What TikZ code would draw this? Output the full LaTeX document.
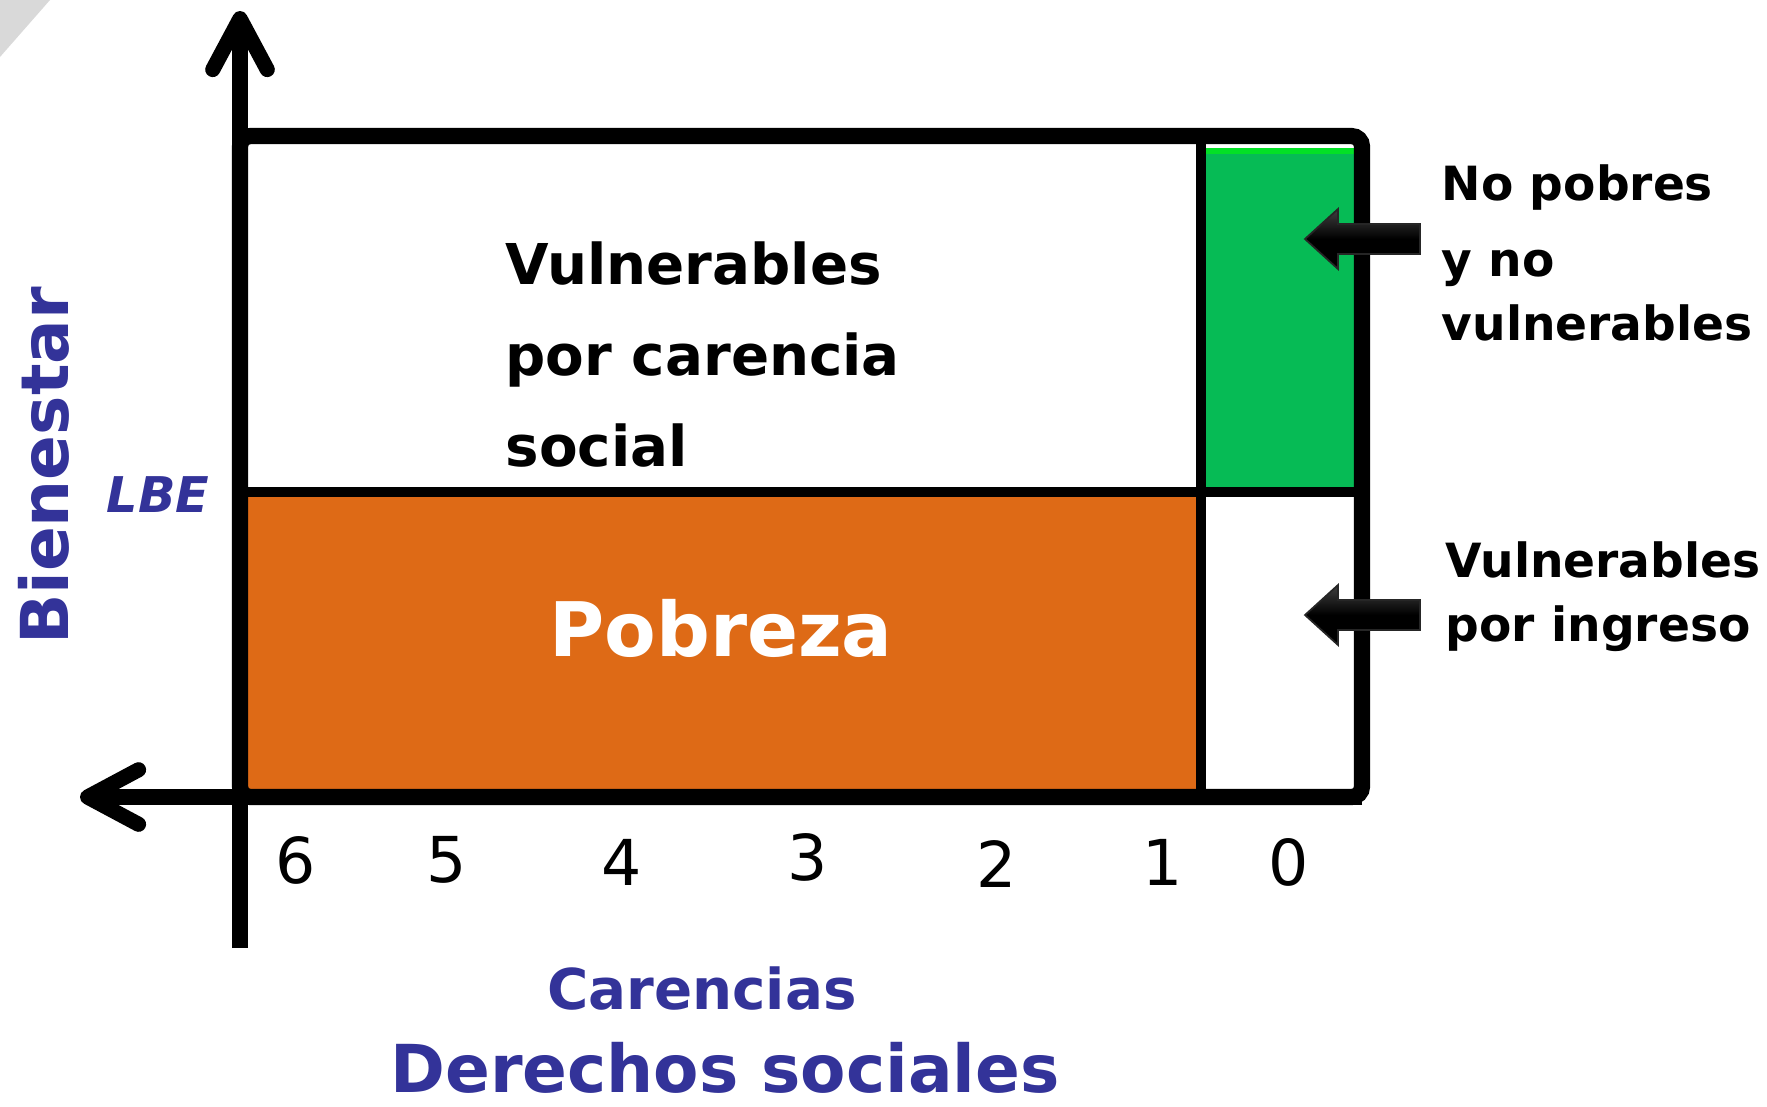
\documentclass[tikz,border=0pt]{standalone}
\usepackage{fontspec}
\setmainfont{DejaVu Sans}
\usetikzlibrary{arrows.meta, positioning, calc}
\definecolor{cv_blue}{HTML}{333399}
\definecolor{cv_orange}{HTML}{DE6A16}
\definecolor{cv_green}{HTML}{06BB55}
\colorlet{titleblue}{cv_blue}
\tikzset{
  axis/.style={line width=4.3pt,black,-{Straight Barb[length=14.5pt,width=15.5pt,round]}},
  frame/.style={line width=4.6pt,black,rounded corners=3pt},
  divider/.style={line width=2.8pt,black},
  zonetext/.style={inner sep=0pt,font=\bfseries\fontsize{16}{25.9}\selectfont,align=left},
  sidetext/.style={inner sep=0pt,anchor=north west,align=left,font=\bfseries\fontsize{13.4}{18.2}\selectfont},
  axistitle/.style={inner sep=0pt,text=titleblue,font=\bfseries},
  tick/.style={inner sep=0pt,font=\fontsize{18}{18}\selectfont},
  blockarrow/.style={top color=black!75,bottom color=black,middle color=black,draw=black!85,line width=0.5pt},
}

\begin{document}
\begin{tikzpicture}[x=0.01cm,y=-0.01cm]
	    \useasboundingbox (0,0) rectangle (1767,1106);
	    \fill[gray!30] (0,0) -- (50,0) -- (0,57) -- cycle;
	    % corners of the chart
	    \coordinate (O) at (240,797);
	    \coordinate (TL) at (240,136);
	    \coordinate (BR) at (1362,797);
	    \coordinate (Ytip) at (240,11);
	    \coordinate (Xtip) at (80,797);
	    \coordinate (Ybot) at (240,948);
	    % zones
	    \fill[cv_orange] (248,497) rectangle (1197,789);
	    \fill[cv_green] (1204,150) rectangle (1354,487);
	    \draw[green!55!cv_green,line width=1.5pt] (1204,151) -- (1354,151);
	    \draw[divider] (240,492) -- (1362,492);
	    \draw[divider] (1201,136) -- (1201,797);
	    \draw[frame] (TL) rectangle (BR);
	    \draw[axis] (Ybot) -- (Ytip);
	    \draw[axis] (BR) -- (Xtip);
	    % labels inside
	    \node[zonetext,anchor=north west] (V1) at (505,241) {Vulnerables\\por carencia\\social};
	    \node[zonetext,anchor=base,text=white,font=\bfseries\fontsize{21.4}{22}\selectfont] (P) at (721,656) {Pobreza};
	    \node[axistitle,rotate=90,font=\bfseries\fontsize{18.8}{20}\selectfont] (B) at (44,466) {Bienestar};
	    \node[axistitle,font=\bfseries\itshape\fontsize{14}{14}\selectfont] (LBE) at (158,495) {LBE};
	    % side labels
	    \node[sidetext] (S1) at (1441,164) {No pobres\\[3.4pt]y no\\vulnerables};
	    \node[sidetext] (S2) at (1445,541) {Vulnerables\\por ingreso};
	    \foreach \y in {239,615}
	    	\fill[blockarrow] (1420,{\y-15}) -- (1338,{\y-15}) -- (1338,{\y-30}) -- (1305,\y)
	    		-- (1338,{\y+30}) -- (1338,{\y+15}) -- (1420,{\y+15}) -- cycle;
	    % ticks
	    \foreach \n/\x/\y in {6/296/860,5/447/860,4/622/862,3/808/857,2/997/864,1/1163/862,0/1289/862}
	    	\node[tick] (t\n) at (\x,\y) {\n};
	    \node[axistitle,anchor=base,font=\bfseries\fontsize{18.8}{19}\selectfont] (D) at (725,1092) {Derechos sociales};
	    \node[axistitle,above=0.30cm of D,xshift=-0.23cm,font=\bfseries\fontsize{16}{17}\selectfont] (C) {Carencias};
	\end{tikzpicture}
\end{document}
